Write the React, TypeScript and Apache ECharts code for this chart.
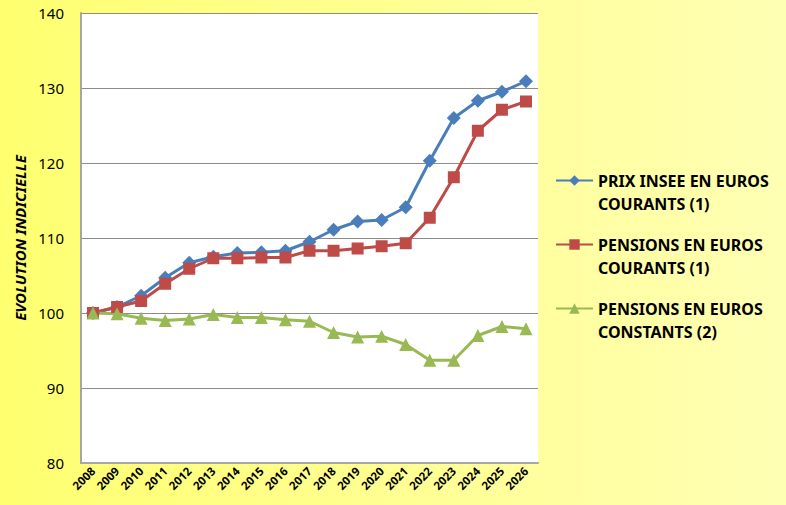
import React, { useEffect, useRef } from "react";
import * as echarts from "echarts";

const years = ["2008","2009","2010","2011","2012","2013","2014","2015","2016","2017","2018","2019","2020","2021","2022","2023","2024","2025","2026"];
const prixInsee = [100, 100.8, 102.3, 104.7, 106.7, 107.5, 108.0, 108.1, 108.3, 109.5, 111.1, 112.2, 112.4, 114.1, 120.3, 126.0, 128.3, 129.5, 130.9];
const pensionsCourants = [100, 100.8, 101.6, 103.9, 105.9, 107.3, 107.3, 107.4, 107.4, 108.3, 108.3, 108.6, 108.9, 109.3, 112.7, 118.1, 124.3, 127.1, 128.2];
const pensionsConstants = [100, 99.9, 99.3, 99.0, 99.2, 99.8, 99.4, 99.4, 99.1, 98.9, 97.4, 96.8, 96.9, 95.8, 93.7, 93.7, 97.0, 98.2, 97.9];
const seriesNames = ["PRIX INSEE EN EUROS\nCOURANTS (1)", "PENSIONS EN EUROS\nCOURANTS (1)", "PENSIONS EN EUROS\nCONSTANTS (2)"];
const yTitle = "EVOLUTION INDICIELLE";

export default function App() {
  const ref = useRef<HTMLDivElement>(null);
  useEffect(() => {
    if (!ref.current) return;
    const chart = echarts.init(ref.current, null, { renderer: "svg" });
    const font = "Noto Sans, sans-serif";
    const mk = (name: string, data: number[], color: string, symbol: string, size: number) => ({
      name,
      type: "line",
      data,
      symbol,
      symbolSize: size,
      lineStyle: { color, width: 3 },
      itemStyle: { color },
    });
    const txt = { fontFamily: font, fontSize: 16, fontWeight: "bold", color: "#000", lineHeight: 23 };
    chart.setOption({
      animation: false,
      backgroundColor: {
        type: "linear", x: 0, y: 0, x2: 1, y2: 0,
        colorStops: [
          { offset: 0, color: "#FFFF70" },
          { offset: 1, color: "#FFFFB4" },
        ],
      },
      grid: { left: 81, top: 13, right: 248, bottom: 42, backgroundColor: "#FFFFFF", show: true, borderWidth: 0 },
      legend: {
        orient: "vertical",
        left: 550,
        top: 141,
        itemWidth: 37,
        itemHeight: 13,
        itemGap: -5,
        selectedMode: false,
        formatter: (name: string) => "{s| }\n" + name.split("\n").map((l) => "{a|" + l + "}").join("\n"),
        textStyle: {
          ...txt,
          rich: { a: { ...txt }, s: { ...txt, fontSize: 10 } },
        },
      },
      xAxis: {
        type: "category",
        data: years,
        boundaryGap: true,
        axisLine: { lineStyle: { color: "#A6A6A6", width: 2 } },
        axisTick: { show: false },
        axisLabel: { rotate: 45, fontFamily: font, fontSize: 11.5, fontWeight: "bold", color: "#000", margin: 6, interval: 0 },
      },
      yAxis: {
        type: "value",
        min: 80,
        max: 140,
        interval: 10,
        name: yTitle,
        nameLocation: "middle",
        nameGap: 50,
        nameTextStyle: { fontFamily: font, fontSize: 15, fontWeight: "bold", fontStyle: "italic", color: "#000" },
        axisLine: { show: true, lineStyle: { color: "#A6A6A6", width: 2 } },
        axisTick: { show: false },
        splitLine: { lineStyle: { color: "#8C8C8C", width: 1 } },
        axisLabel: { fontFamily: font, fontSize: 15, color: "#000", margin: 17 },
      },
      series: [
        mk(seriesNames[0], prixInsee, "#4A7EBB", "diamond", 14),
        mk(seriesNames[1], pensionsCourants, "#BE4B48", "rect", 12),
        mk(seriesNames[2], pensionsConstants, "#98B954", "triangle", 13),
      ],
    });
    return () => chart.dispose();
  }, []);
  return <div ref={ref} style={{ width: 786, height: 505, position: "absolute", left: 0, top: 0 }} />;
}
